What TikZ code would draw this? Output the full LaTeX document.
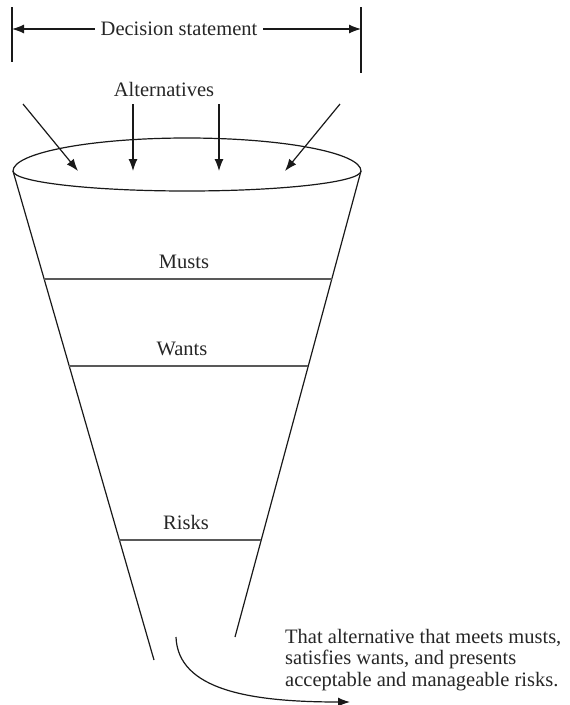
\documentclass[tikz,border=0pt]{standalone}
\usepackage{fontspec}
\setmainfont{Liberation Serif}
\usetikzlibrary{arrows.meta}
\begin{document}
\begin{tikzpicture}[x=1pt,y=-1pt,
  stroke/.style={line width=1.2pt, draw=black!90},
  arrowline/.style={stroke, -{Latex[length=12pt,width=9pt]}},
  bandline/.style={line width=1.7pt, draw=black!65},
  txt/.style={font=\fontsize{20.5}{21.5}\selectfont, inner sep=0pt, text=black!85}]
\useasboundingbox (0,0) rectangle (570,705);

% top dimension line
\coordinate (lt1) at (12,7);
\coordinate (lt2) at (12,62);
\coordinate (rt1) at (361,7);
\coordinate (rt2) at (361,73);
\coordinate (dl) at (12,29);
\coordinate (dr) at (361,29);
\draw[stroke] (lt1) -- (lt2);
\draw[stroke] (rt1) -- (rt2);
\node[txt, anchor=base] (ds) at (179,35) {Decision statement};
\path (ds.west |- dl) ++(-6,0) coordinate (dsl);
\path (ds.east |- dr) ++(6,0) coordinate (dsr);
\draw[arrowline] (dsl) -- (dl);
\draw[arrowline] (dsr) -- (dr);

% alternatives
\node[txt, anchor=base] (alt) at (164,96) {Alternatives};
\coordinate (a1s) at (23,104);  \coordinate (a1e) at (78,171);
\coordinate (a2s) at (133,104); \coordinate (a2e) at (133,171);
\coordinate (a3s) at (219,104); \coordinate (a3e) at (219,171);
\coordinate (a4s) at (340,104); \coordinate (a4e) at (285,171);
\draw[arrowline] (a1s) -- (a1e);
\draw[arrowline] (a2s) -- (a2e);
\draw[arrowline] (a3s) -- (a3e);
\draw[arrowline] (a4s) -- (a4e);

% funnel mouth
\coordinate (el) at (13,171);
\coordinate (er) at (361,171);
\draw[stroke] (el) .. controls (13,152.8) and (90.9,138) .. (187,138)
  .. controls (283.1,138) and (361,152.8) .. (er)
  .. controls (361,182) and (283.1,191) .. (187,191)
  .. controls (90.9,191) and (13,182) .. (el);

% funnel sides
\coordinate (fl) at (154,660);
\coordinate (fr) at (235,637);
\draw[stroke] (el) -- (fl);
\draw[stroke] (er) -- (fr);

% bands
\coordinate (m1) at (44.1,279);  \coordinate (m2) at (331.8,279);
\coordinate (w1) at (69.2,366);  \coordinate (w2) at (308.3,366);
\coordinate (r1) at (119.4,540); \coordinate (r2) at (261.2,540);
\draw[bandline] (m1) -- (m2);
\draw[bandline] (w1) -- (w2);
\draw[bandline] (r1) -- (r2);
\node[txt, anchor=base] (musts) at (184,268) {Musts};
\node[txt, anchor=base] (wants) at (182,355) {Wants};
\node[txt, anchor=base] (risks) at (186,529) {Risks};

% outcome
\coordinate (cs) at (176,637);
\coordinate (ce) at (350,702);
\draw[arrowline] (cs) .. controls (178,690) and (250,702) .. (ce);
\node[txt, anchor=north west, align=left] (res) at (285,629)
  {That alternative that meets musts,\\satisfies wants, and presents\\acceptable and manageable risks.};
\end{tikzpicture}
\end{document}
